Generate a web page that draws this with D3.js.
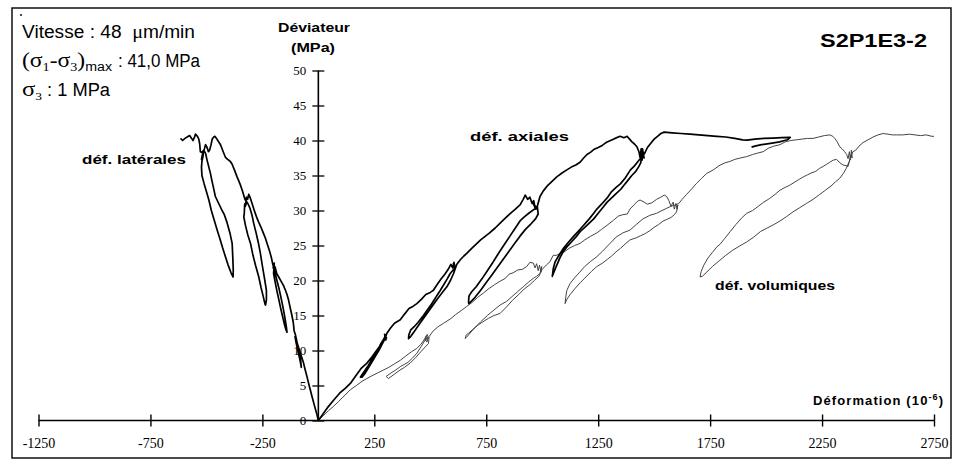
<!DOCTYPE html>
<html><head><meta charset="utf-8">
<script src="https://cdn.jsdelivr.net/npm/d3@7"></script>
<style>html,body{margin:0;padding:0;background:#fff;} svg{display:block;}</style>
</head><body><svg id="chart" width="954" height="463"></svg>
<script>
// ---------- data ----------
const xTicks = [-1250, -750, -250, 250, 750, 1250, 1750, 2250, 2750];
const yTicks = [0, 5, 10, 15, 20, 25, 30, 35, 40, 45, 50];
const seriesNames = ["déf. latérales", "déf. axiales", "déf. volumiques"];

// lateral strain (1e-6) vs deviator (MPa)
const lateral = [
 [0,0],[-6,0.8],[-18,2.2],[-28,3.4],[-36,4.4],[-45,5.5],[-51,6.3],[-60,7.4],[-66,8.2],[-74,9],[-82,9.8],[-90,10.6],[-97,11.3],[-104,12],
 [-100,11.2],[-93,10.2],[-86,9.2],[-80,8.3],[-76,7.6],[-79,8.6],[-86,9.8],[-94,11],[-102,12.2],[-108,12.8],
 [-112,14],[-118,15],[-125,16],[-133,17.2],[-140,18],[-147,18.6],[-156,19.3],[-165,19.8],[-177,20.5],[-186,21],[-193,21.9],[-199,22.2],[-195,21.6],[-202,21.8],[-197,22.5],
 [-200,21],[-193,19.8],[-185,18.5],[-176,17.2],[-168,16],[-160,14.9],[-152,13.8],[-145,13],[-140,12.6],[-143,13.4],[-150,14.8],[-158,16.2],[-167,17.6],[-176,18.9],[-185,20],[-195,21.3],[-204,22.4],
 [-210,23.3],[-218,24.2],[-226,25],[-236,26],[-246,26.8],[-256,27.6],[-266,28.3],[-274,28.9],[-284,29.8],[-296,31],[-304,31.8],[-311,32.3],[-316,31.6],[-321,31.9],[-326,30.6],[-320,31.2],[-329,30.9],
 [-331,29.5],[-333,29.1],[-325,27.8],[-315,26.5],[-303,25.3],[-292,23.6],[-280,22.1],[-266,20.5],[-256,19],[-246,17.7],[-238,16.6],[-236,16.5],
 [-232,17.2],[-232,18.6],[-240,20.2],[-250,22.1],[-259,23.9],[-268,25.4],[-278,26.8],[-289,28.2],[-296,29.3],[-305,30.3],[-315,31],[-328,31.6],
 [-340,32.9],[-350,33.8],[-363,34.8],[-375,35.8],[-385,36.6],[-393,37],[-405,37.3],[-415,37.6],[-425,38.4],[-437,39.4],[-447,39.9],[-455,40.3],[-462,40.6],[-467,40.5],[-474,40.2],[-480,39.3],[-486,38.6],[-491,38.4],[-497,39],[-504,39.4],[-509,38.8],[-513,38.4],[-516,37.6],[-519,37.2],[-514,38],[-522,37.3],[-517,38.1],
 [-522,36.2],[-520,35],[-510,33.8],[-500,32.7],[-489,31.5],[-478,30],[-465,28.6],[-452,27.2],[-440,26],[-428,24.7],[-415,23.4],[-403,22.2],[-390,21.1],[-381,20.5],
 [-380,21.5],[-382,23.2],[-385,25.3],[-395,26.8],[-408,28.3],[-420,29.4],[-430,30],[-445,31],[-460,32],[-468,33.2],[-475,34.2],[-482,35.3],[-490,36.3],[-497,37.2],[-504,38.2],[-512,38.6],[-520,38.3],
 [-527,38.4],[-530,39.5],[-534,40.2],[-540,40.6],[-549,40.9],[-554,40.4],[-560,40],[-566,40.3],[-575,40.7],[-586,40.5],[-596,40.3],[-606,40],[-616,40.3]
];

// axial strain
const axial = [
 [0,0],[20,0.9],[40,1.8],[68,2.9],[95,3.9],[120,4.6],[143,5.3],[165,6.3],[190,7.4],[217,8.2],[240,9.1],[265,10.2],[291,11.3],[298,12.1],[302,11.5],[296,12.3],[304,11.8],
 [295,11.8],[280,11],[265,10.1],[250,9.3],[235,8.5],[220,7.7],[205,7],[192,6.4],[188,6.2],
 [195,6.2],[210,6.8],[225,7.6],[240,8.4],[255,9.2],[270,10],[285,10.9],[298,11.7],[305,12.4],
 [320,13.1],[340,13.9],[366,14.4],[385,15.2],[405,16],[422,16.3],[440,16.7],[460,17.3],[480,18],[500,18.3],[514,18.6],[530,19.4],[548,20.2],[565,20.9],[580,21.6],[592,22.3],[600,21.8],[606,22.6],[610,21.6],[603,22.4],[613,21.8],
 [605,21.6],[589,21],[575,20.2],[560,19.4],[545,18.6],[525,17.6],[505,16.6],[485,15.7],[465,14.8],[445,14],[428,13.4],[412,12.9],[404,12.2],[403,11.7],
 [410,11.9],[430,12.8],[450,13.7],[470,14.6],[490,15.5],[510,16.4],[530,17.3],[552,18.2],[574,19.1],[590,20],[604,21],[618,22.3],
 [635,23],[650,23.5],[664,23.9],[685,24.6],[705,25.2],[725,25.8],[745,26.3],[765,26.8],[790,27.5],[812,28.2],[835,28.9],[858,29.6],[880,30.2],[901,30.8],[915,31.6],[924,32.2],[935,31.6],[945,31.9],[955,31],[962,31.4],[968,30.4],[960,31],[972,30.2],[964,30.8],[975,30.4],
 [965,30.2],[940,29.6],[920,29.1],[903,28.6],[880,27.5],[855,26.3],[830,25.1],[805,23.9],[780,22.6],[755,21.4],[730,20.2],[705,19.1],[685,18.4],[673,17.8],[671,17],[672,16.7],
 [685,17.1],[700,17.6],[725,18.6],[750,19.7],[775,20.8],[800,21.9],[825,23],[850,24.1],[875,25.2],[900,26.3],[925,27.3],[950,28.1],[970,28.8],[982,29.5],[978,30.6],
 [990,32],[1005,32.8],[1025,33.6],[1045,34.2],[1065,34.8],[1090,35.4],[1110,35.8],[1130,36.2],[1150,36.5],[1169,36.9],[1185,37.5],[1200,38],[1215,38.3],[1230,38.7],[1250,39],[1268,39.3],[1285,39.7],[1305,40],[1325,40.3],[1348,40.6],[1365,40.4],[1379,40.6],[1390,40.2],[1401,39.8],[1412,39.5],[1423,39.1],[1432,38.4],[1437,37.6],[1442,38.8],[1446,37.2],[1450,38.4],[1455,37.5],[1448,38.8],
 [1440,36.8],[1430,36.2],[1418,35.6],[1400,35],[1380,34.2],[1365,33.6],[1350,33],[1330,32.4],[1310,31.8],[1290,31.2],[1270,30.4],[1250,29.6],[1230,28.8],[1210,28.2],[1190,27.6],[1170,27],[1150,26.2],[1130,25.5],[1110,24.8],[1095,24.2],[1080,23.3],[1065,22.2],[1052,21.2],[1045,20.6],
 [1050,21.8],[1058,22.7],[1075,23.6],[1095,24.6],[1115,25.4],[1140,26.3],[1160,27],[1185,27.9],[1210,28.8],[1230,29.6],[1244,30.2],[1265,30.9],[1290,31.8],[1310,32.7],[1330,33.3],[1349,33.8],[1370,34.6],[1394,35.8],[1410,36.3],[1425,36.9],[1440,37.5],[1458,38.2],
 [1470,39],[1485,39.6],[1500,40.2],[1515,40.6],[1530,41],[1545,41.2],[1580,41.1],[1620,41],[1660,40.9],[1700,40.8],[1740,40.7],[1780,40.6],[1820,40.5],[1860,40.3],[1895,40.1],[1915,40.05],[1950,40.2],[1990,40.3],[2030,40.35],[2070,40.4],[2108,40.45],[2095,40.1],[2060,39.8],[2020,39.6],[1980,39.4],[1950,39.2],[1935,39.05]
];

// volumetric strain
const volumetric = [
 [0,0],[20,0.6],[45,1.4],[67,2],[90,2.7],[115,3.5],[143,4.4],[170,5],[195,5.6],[217,6],[240,6.4],[265,6.8],[290,7.2],[315,7.6],[340,8.1],[366,8.6],[390,9.2],[415,9.8],[440,10.3],[458,10.9],[472,11.5],[482,12.1],[478,11.4],[488,11.9],[484,11.2],[492,11.8],[486,12.3],
 [477,11.5],[460,10.6],[440,9.6],[420,8.9],[400,8.3],[383,8],[366,7.7],[345,7.2],[325,6.8],[303,6.3],
 [313,6],[335,6.5],[360,7.1],[385,7.6],[410,8.2],[435,9],[460,9.9],[480,10.6],[492,11],[495,12],
 [513,12.8],[535,13.4],[560,13.9],[589,14.5],[612,15.1],[638,15.7],[663,16.3],[688,16.9],[712,17.6],[737,18.2],[760,18.8],[787,19.4],[812,19.9],[835,20.3],[852,20.9],[870,21.1],[890,21.5],[912,21.6],[931,22],[945,22.6],[960,22.5],[968,21.8],[975,22.4],[982,21.4],[988,22.2],[994,21.2],[998,22],
 [990,21],[975,20.6],[960,20.3],[940,19.8],[915,19.1],[890,18.4],[865,17.7],[840,17],[812,16.5],[785,15.8],[755,15],[725,14.1],[700,13.3],[678,12.5],[662,11.9],[656,11.7],
 [660,12.2],[672,12.5],[690,13],[712,13.6],[735,14.1],[760,14.6],[785,15],[812,15.3],[840,16.2],[868,17.2],[895,18],[920,18.8],[945,19.4],[965,20],[985,20.6],[1000,21.6],
 [1018,22.2],[1035,22.7],[1049,23.6],[1065,23.6],[1080,23.9],[1095,24],[1120,24.6],[1145,25],[1169,25.3],[1190,25.8],[1215,26.3],[1244,26.8],[1265,27.3],[1290,27.9],[1318,28.6],[1340,29.2],[1360,29.4],[1380,29.5],[1392,30.2],[1410,30.8],[1425,31.3],[1437,31.5],[1455,31.2],[1470,30.9],[1490,31.1],[1511,31.6],[1530,31.9],[1545,32.2],[1556,32],[1566,31.4],[1575,30.6],[1585,31.2],[1590,30.2],[1597,31],[1602,30.2],[1606,30.8],
 [1600,29.8],[1590,29.4],[1575,29],[1555,28.7],[1540,28.5],[1520,28],[1500,27.6],[1480,27.1],[1460,26.7],[1440,26.4],[1420,26.1],[1392,25.8],[1370,25.2],[1350,24.6],[1330,24.1],[1310,23.5],[1290,23],[1270,22.5],[1244,22],[1220,21.3],[1195,20.5],[1170,19.7],[1145,18.8],[1125,18],[1110,17.3],[1102,16.7],
 [1105,17.6],[1110,18.6],[1125,19.6],[1145,20.4],[1165,21.1],[1190,22],[1215,22.7],[1244,23.4],[1270,24.2],[1300,25.2],[1330,26.2],[1360,26.8],[1392,27.2],[1420,28],[1450,28.8],[1480,29.3],[1511,29.6],[1535,30],[1555,30.3],[1575,30.6],[1595,30.8],[1610,31],
 [1625,31.6],[1645,32.3],[1668,33.1],[1690,33.9],[1712,34.6],[1735,35.3],[1764,35.8],[1790,36.4],[1815,36.8],[1838,37],[1860,37.3],[1885,37.5],[1913,37.7],[1940,38],[1962,38.2],[1987,38.4],[2010,38.9],[2035,39.2],[2062,39.4],[2085,39.8],[2110,40],[2136,40.1],[2160,40.2],[2185,40.3],[2210,40.3],[2235,40.5],[2260,40.7],[2285,40.8],[2298,40.6],[2307,40.3],[2318,39.8],[2329,39.1],[2340,38.8],[2351,38.4],[2360,38],[2366,37.4],[2372,38.4],[2377,37.2],[2381,38.6],[2385,37.5],[2378,37.9],
 [2372,37],[2366,36.3],[2357,36.4],[2344,36.5],[2330,36.8],[2315,37.3],[2300,37.2],[2285,36.9],[2270,36.6],[2255,36.3],[2238,36],[2222,35.6],[2205,35.4],[2185,35.1],[2166,34.8],[2145,34.4],[2125,34],[2105,33.6],[2085,33.3],[2062,32.9],[2040,32.3],[2015,31.7],[1990,31.2],[1965,30.6],[1940,30],[1913,29.6],[1890,28.9],[1865,28],[1840,27],[1815,26],[1795,25.2],[1780,24.8],[1760,24],[1740,23.2],[1722,22.2],[1710,21.3],[1705,20.5],
 [1715,20.6],[1735,21.2],[1760,22],[1790,22.8],[1820,23.6],[1850,24.3],[1880,24.9],[1913,25.5],[1945,26.2],[1975,27],[2005,27.5],[2035,28],[2062,28.5],[2090,29.1],[2120,29.8],[2150,30.4],[2180,31],[2210,31.6],[2240,32.3],[2265,32.9],[2290,33.5],[2310,34.1],[2329,34.6],[2345,35.3],[2358,36],[2370,36.9],[2380,37.8],[2388,38.4],
 [2400,38.6],[2415,39.2],[2433,39.7],[2455,40.1],[2478,40.5],[2500,40.8],[2523,41],[2545,40.9],[2565,40.8],[2582,40.8],[2610,40.8],[2640,40.9],[2665,40.8],[2690,40.7],[2715,40.8],[2740,40.6],[2750,40.6]
];

// ---------- drawing ----------
const svg = d3.select("#chart");
const x = d3.scaleLinear().domain([-1250, 2750]).range([38.5, 934]);
const y = d3.scaleLinear().domain([0, 50]).range([420.5, 70.5]);
const sans = "Arial, 'Liberation Sans', sans-serif";
const serif = "'Liberation Serif', 'Times New Roman', serif";

// frame
svg.append("rect").attr("x", 12).attr("y", 8).attr("width", 939).attr("height", 450)
  .attr("fill", "none").attr("stroke", "#111").attr("stroke-width", 1.5);
svg.append("circle").attr("cx", 21).attr("cy", 15).attr("r", 1.1).attr("fill", "#222");

// x axis
svg.append("line").attr("x1", x(-1250)).attr("x2", x(2750)).attr("y1", y(0)).attr("y2", y(0))
  .attr("stroke", "#000").attr("stroke-width", 1.6);
const gx = svg.append("g").attr("transform", `translate(0,${y(0) - 6})`)
  .call(d3.axisBottom(x).tickValues(xTicks).tickSize(12).tickPadding(12).tickFormat(d => String(d)));
gx.select(".domain").remove();
gx.selectAll(".tick line").attr("stroke", "#000").attr("stroke-width", 1.4);
gx.selectAll("text").attr("font-family", serif).attr("font-size", 14).attr("fill", "#000");

// y axis
svg.append("line").attr("x1", x(0)).attr("x2", x(0)).attr("y1", y(0)).attr("y2", y(50))
  .attr("stroke", "#000").attr("stroke-width", 1.6);
const gy = svg.append("g").attr("transform", `translate(${x(0) + 6},0)`)
  .call(d3.axisLeft(y).tickValues(yTicks).tickSize(12).tickPadding(6));
gy.select(".domain").remove();
gy.selectAll(".tick line").attr("stroke", "#000").attr("stroke-width", 1.3);
gy.selectAll("text").attr("font-family", serif).attr("font-size", 13).attr("fill", "#000");

// curves
const line = d3.line().x(d => x(d[0])).y(d => y(d[1]));
svg.append("path").datum(volumetric).attr("d", line).attr("fill", "none")
  .attr("stroke", "#444").attr("stroke-width", 1).attr("stroke-linejoin", "round");
svg.append("path").datum(axial).attr("d", line).attr("fill", "none")
  .attr("stroke", "#000").attr("stroke-width", 1.7).attr("stroke-linejoin", "round");
svg.append("path").datum(lateral).attr("d", line).attr("fill", "none")
  .attr("stroke", "#000").attr("stroke-width", 1.7).attr("stroke-linejoin", "round");

// series labels
function boldText(t, px, py, len, size) {
  svg.append("text").attr("x", px).attr("y", py).attr("font-family", sans).attr("font-weight", "bold")
    .attr("font-size", size).attr("textLength", len).attr("lengthAdjust", "spacingAndGlyphs")
    .attr("fill", "#000").text(t);
}
boldText(seriesNames[0], 82, 164, 104, 13);
boldText(seriesNames[1], 470, 140.5, 99, 13);
boldText(seriesNames[2], 715, 290, 120, 13);

// axis titles
boldText("Déviateur", 278, 32, 72, 13);
boldText("(MPa)", 291, 52, 44, 13);
const dx = svg.append("text").attr("x", 813).attr("y", 405).attr("font-family", sans)
  .attr("font-weight", "bold").attr("font-size", 13).attr("letter-spacing", 1.1).attr("fill", "#000");
dx.append("tspan").text("Déformation (10");
dx.append("tspan").attr("font-size", 9).attr("dy", -5).text("-6");
dx.append("tspan").attr("dy", 5).text(")");

// title
boldText("S2P1E3-2", 820, 47, 107, 19);

// info block
const t1 = svg.append("text").attr("x", 22).attr("y", 37.5).attr("font-family", sans).attr("font-size", 18)
  .attr("fill", "#000").style("white-space", "pre").attr("textLength", 173).attr("lengthAdjust", "spacingAndGlyphs");
t1.append("tspan").text("Vitesse : 48  ");
t1.append("tspan").attr("font-family", serif).attr("font-size", 19).text("μ");
t1.append("tspan").text("m/min");

const t2a = svg.append("text").attr("x", 22).attr("y", 66.5).attr("font-family", serif).attr("font-size", 20)
  .attr("fill", "#000").attr("textLength", 90).attr("lengthAdjust", "spacingAndGlyphs");
t2a.append("tspan").text("(σ");
t2a.append("tspan").attr("font-size", 12).attr("dy", 4).text("1");
t2a.append("tspan").attr("dy", -4).text("-σ");
t2a.append("tspan").attr("font-size", 12).attr("dy", 4).text("3");
t2a.append("tspan").attr("dy", -4).text(")");
t2a.append("tspan").attr("font-family", sans).attr("font-size", 12).attr("dy", 4).text("max");
svg.append("text").attr("x", 118).attr("y", 66.5).attr("font-family", sans).attr("font-size", 18)
  .attr("fill", "#000").attr("textLength", 82).attr("lengthAdjust", "spacingAndGlyphs")
  .text(": 41,0 MPa");

const t3 = svg.append("text").attr("x", 22).attr("y", 96).attr("font-family", serif).attr("font-size", 20)
  .attr("fill", "#000").attr("textLength", 20).attr("lengthAdjust", "spacingAndGlyphs");
t3.append("tspan").text("σ");
t3.append("tspan").attr("font-size", 11).attr("dy", 4).text("3");
svg.append("text").attr("x", 47).attr("y", 96).attr("font-family", sans).attr("font-size", 18)
  .attr("fill", "#000").attr("textLength", 63).attr("lengthAdjust", "spacingAndGlyphs").text(": 1 MPa");
</script>
</body></html>
